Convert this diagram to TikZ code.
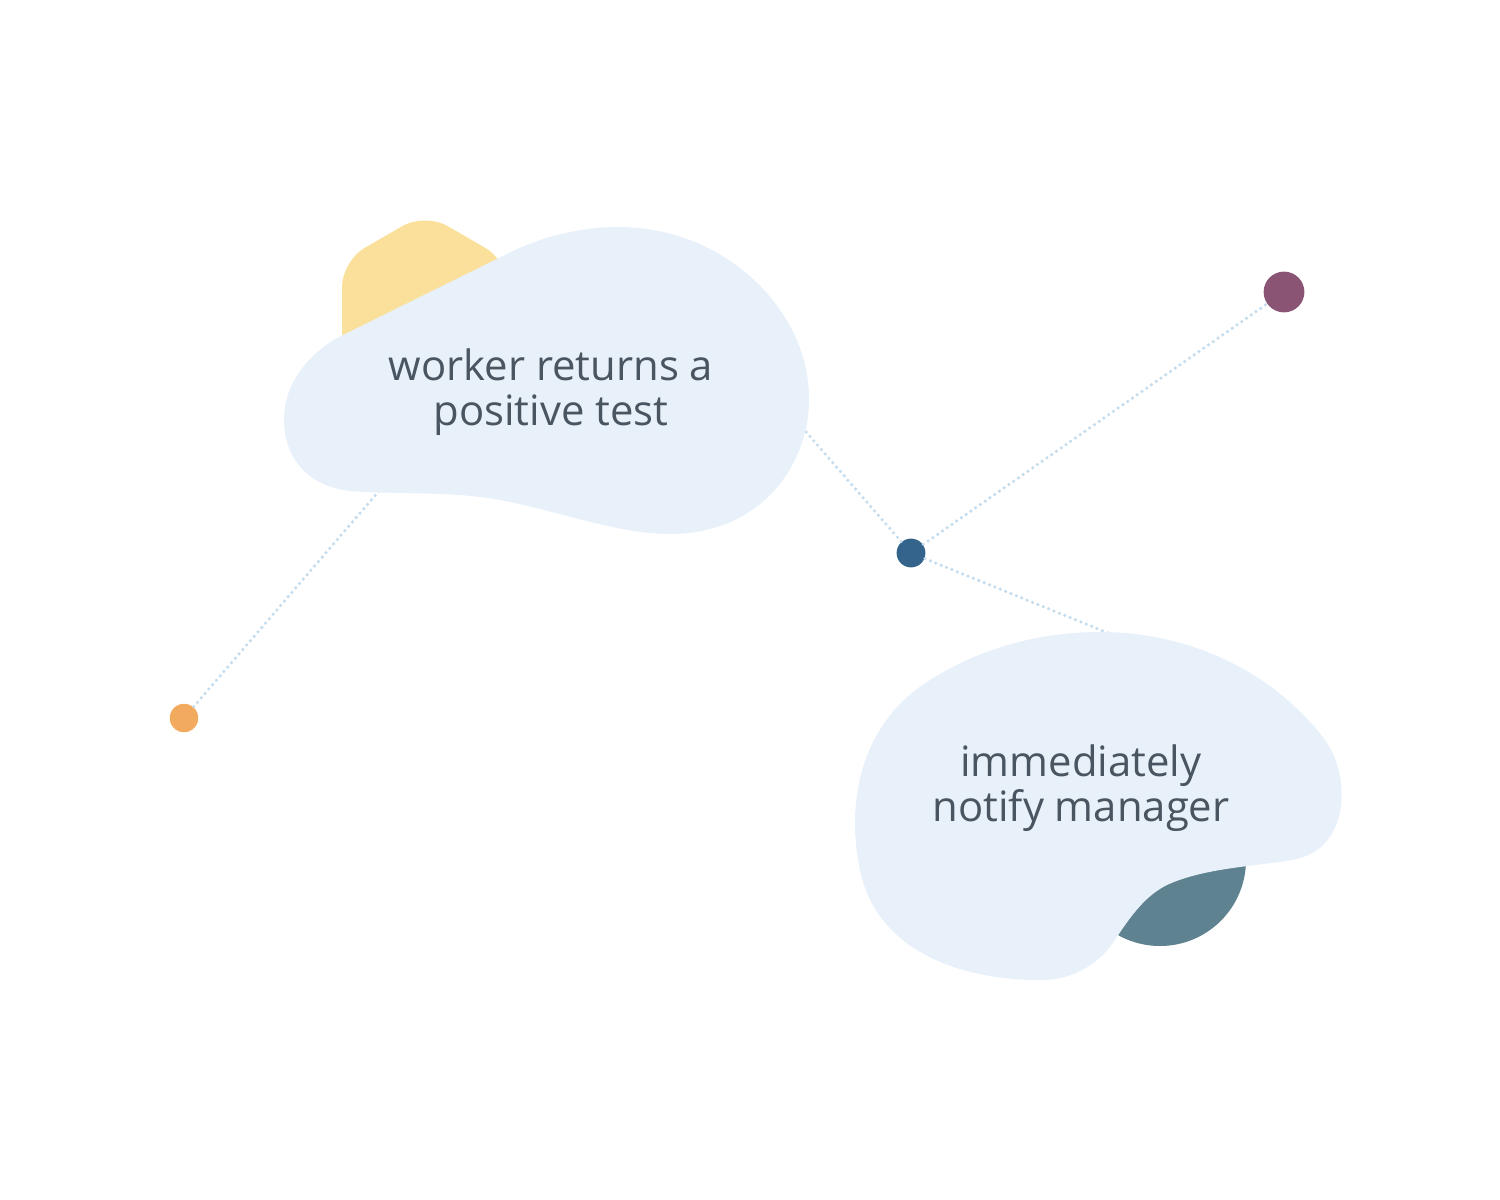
\documentclass[tikz,border=0pt]{standalone}
\usepackage{fontspec}
\setmainfont{Open Sans}
\definecolor{blobfill}{HTML}{E8F1F9}
\definecolor{hexyellow}{HTML}{FAE09A}
\definecolor{leafteal}{HTML}{5E8290}
\definecolor{dotorange}{HTML}{F2AA5E}
\definecolor{dotblue}{HTML}{34638B}
\definecolor{dotpurple}{HTML}{8A5475}
\definecolor{linkblue}{HTML}{C3DCEE}
\definecolor{textgrey}{HTML}{4A5562}
\tikzset{
    dot/.style = {circle, inner sep=0pt, minimum size=#1},
    link/.style = {linkblue, line width=1pt, line cap=round, dash pattern=on 0pt off 1.65pt},
    label/.style = {text=textgrey, align=center, font=\fontsize{11.9}{12.8}\selectfont}
}
\begin{document}
\begin{tikzpicture}[x=0.1mm, y=-0.1mm]
        \useasboundingbox (0,0) rectangle (1500,1200);
        % dots
        \node[dot=8.1pt, fill=dotorange] (start) at (184,718) {};
        \node[dot=8.2pt, fill=dotblue] (hub) at (911,553) {};
        \node[dot=11.6pt, fill=dotpurple] (end) at (1284,292) {};
        \coordinate (testin) at (440,420);
        \coordinate (testout) at (761,380);
        \coordinate (notifyin) at (1150,650);
        % links
        \draw[link] (start) -- (testin);
        \draw[link] (hub) -- (testout);
        \draw[link] (hub) -- (end);
        \draw[link] (hub) -- (notifyin);
        % shapes behind
        \fill[hexyellow, rounded corners=2.6mm] (425,213) -- (508,261) -- (508,357)
            -- (425,405) -- (342,357) -- (342,261) -- cycle;
        \fill[leafteal] (1160,860) circle (86);
        % blobs
        \fill[blobfill] (339,337) -- (515,250) .. controls (555,232) and (590,227) .. (620,227)
            .. controls (720,228) and (795,300) .. (807,375)
            .. controls (820,450) and (770,534) .. (670,534)
            .. controls (610,534) and (545,505) .. (480,497)
            .. controls (440,492) and (385,494) .. (350,491)
            .. controls (305,486) and (284,455) .. (284,420)
            .. controls (284,380) and (312,352) .. (339,337) -- cycle;
        \fill[blobfill] (1100,632) .. controls (1200,632) and (1280,680) .. (1325,740)
            .. controls (1352,778) and (1348,845) .. (1300,858)
            .. controls (1270,866) and (1205,866) .. (1165,886)
            .. controls (1135,902) and (1120,936) .. (1104,954)
            .. controls (1082,975) and (1060,980) .. (1040,980)
            .. controls (955,980) and (876,948) .. (860,870)
            .. controls (845,800) and (862,722) .. (930,680)
            .. controls (980,648) and (1040,632) .. (1100,632) -- cycle;
        % texts
        \node[label] (test) at (551,392) {worker returns a\\positive test};
        \node[label] (notify) at (1081,788) {immediately\\notify manager};
    \end{tikzpicture}
\end{document}
